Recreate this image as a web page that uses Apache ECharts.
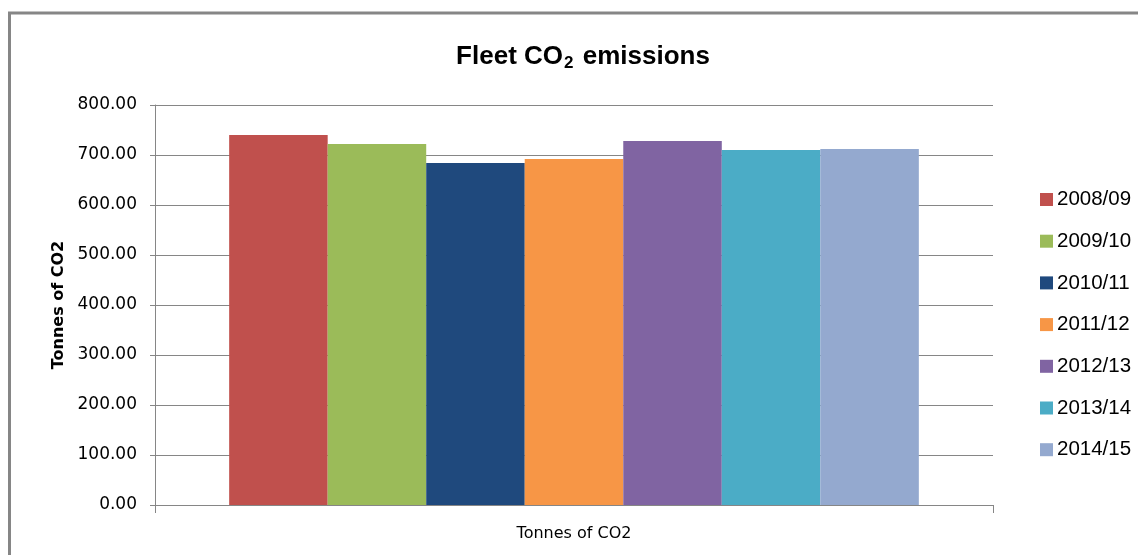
<!DOCTYPE html>
<html>
<head>
<meta charset="utf-8">
<script src="https://cdn.jsdelivr.net/npm/echarts@6/dist/echarts.min.js"></script>
<style>
html,body{margin:0;padding:0;background:#fff;}
#chart{width:1138px;height:555px;}
</style>
</head>
<body>
<div id="chart"></div>
<script>
const categories = ['Tonnes of CO2'];
const seasons = ['2008/09','2009/10','2010/11','2011/12','2012/13','2013/14','2014/15'];
const values = [740, 722, 684, 692, 728, 710, 712];
const colors = ['#C0504D','#9BBB59','#1F497D','#F79646','#8064A2','#4BACC6','#94A9CF'];
const yTicks = [0, 100, 200, 300, 400, 500, 600, 700, 800];

const chart = echarts.init(document.getElementById('chart'), null, {renderer:'canvas'});
const series = seasons.map((s, i) => ({
  name: s,
  type: 'bar',
  data: [values[i]],
  itemStyle: {color: colors[i]},
  barGap: '0%',
  barCategoryGap: '17.7%',
  animation: false
}));
chart.setOption({
  animation: false,
  graphic: [{
    type: 'rect',
    shape: {x: 9.5, y: 13, width: 1200, height: 600},
    style: {fill: 'none', stroke: '#868686', lineWidth: 3},
    silent: true
  }],
  title: {
    text: '{a|Fleet CO}{b|2}{a| emissions}',
    left: 578,
    textAlign: 'center',
    top: 37,
    textStyle: {
      rich: {
        a: {fontFamily: 'Liberation Sans', fontWeight: 'bold', fontSize: 26, color: '#000', lineHeight: 30},
        b: {fontFamily: 'Liberation Sans', fontWeight: 'bold', fontSize: 17, color: '#000', lineHeight: 30, verticalAlign: 'bottom', padding: [11, 2, 0, 1]}
      }
    }
  },
  legend: {
    orient: 'vertical',
    left: 1035,
    top: 184,
    itemWidth: 13,
    itemHeight: 13,
    itemGap: 20.7,
    icon: 'rect',
    data: seasons,
    textStyle: {fontFamily: 'Liberation Sans', fontSize: 20.5, color: '#000', lineHeight: 21, padding: [0,0,0,-1]}
  },
  grid: {left: 155, right: 145, top: 105, bottom: 50, containLabel: false},
  xAxis: {
    type: 'category',
    data: categories,
    boundaryGap: true,
    axisLine: {show: true, lineStyle: {color: '#868686', width: 1}},
    axisTick: {show: true, length: 8, lineStyle: {color: '#868686'}},
    axisLabel: {fontFamily: 'DejaVu Sans', fontSize: 16, color: '#000', margin: 21}
  },
  yAxis: {
    type: 'value',
    min: yTicks[0],
    max: yTicks[yTicks.length - 1],
    interval: 100,
    name: 'Tonnes of CO2',
    nameLocation: 'middle',
    nameGap: 88,
    nameRotate: 90,
    nameTextStyle: {fontFamily: 'DejaVu Sans', fontWeight: 'bold', fontSize: 16, color: '#000'},
    axisLine: {show: true, lineStyle: {color: '#868686', width: 1}},
    axisTick: {show: true, length: 5, lineStyle: {color: '#868686'}},
    axisLabel: {fontFamily: 'DejaVu Sans', fontSize: 17, color: '#000', margin: 18, formatter: v => v.toFixed(2)},
    splitLine: {show: true, lineStyle: {color: '#868686', width: 1}}
  },
  series: series
});
</script>
</body>
</html>
